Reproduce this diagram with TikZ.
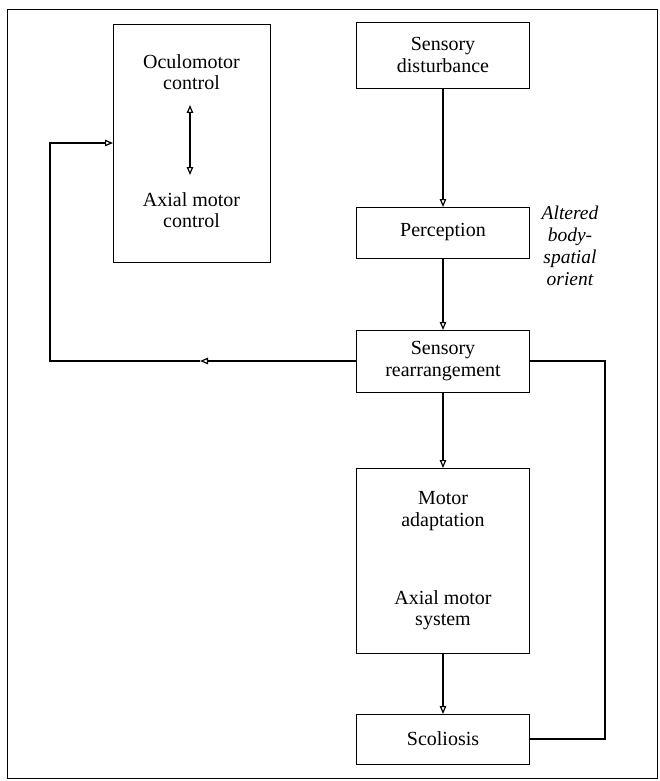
\documentclass[tikz,border=0pt]{standalone}
\usepackage{fontspec}
\setmainfont{Liberation Serif}
\newfontfamily\diagfont{Liberation Serif}
\usetikzlibrary{arrows.meta}
\begin{document}
\begin{tikzpicture}[x=1pt,y=-1pt,
  box/.style={draw, line width=0.8pt, minimum width=173pt, inner sep=0pt, outer sep=0pt},
  txt/.style={align=center, font=\diagfont\fontsize{20}{21.5}\selectfont, inner sep=0pt},
  itxt/.style={align=center, font=\diagfont\itshape\fontsize{19.5}{22}\selectfont, inner sep=0pt},
  arr/.style={line width=1.2pt, -{Triangle[open, length=8pt, width=6.5pt]}},
  dbl/.style={line width=1.2pt, {Triangle[open, length=8pt, width=6.5pt]}-{Triangle[open, length=8pt, width=6.5pt]}},
  ln/.style={line width=1.1pt}]
\useasboundingbox (0,0) rectangle (660,781);
\draw[line width=0.8pt] (7,9) rectangle (657,778);
% left box
\node[box, minimum width=157pt, minimum height=238pt] (lb) at (191.5,143) {};
\node[txt] (oc) at (191.5,72) {Oculomotor\\control};
\node[txt] (ax) at (191.5,210) {Axial motor\\control};
\coordinate (d1) at (190,105);
\coordinate (d2) at (190,175);
\draw[dbl] (d1) -- (d2);
% right column
\node[box, minimum height=66pt, txt] (sd) at (443,55) {Sensory\\disturbance};
\node[box, minimum height=51pt, txt] (pe) at (443,232.5) {Perception};
\node[box, minimum height=62pt, txt] (sr) at (443,361) {Sensory\\rearrangement};
\node[box, minimum height=185pt] (ma) at (443,560.5) {};
\node[txt] (mat) at (443,511) {Motor\\adaptation};
\node[txt] (axs) at (443,610) {Axial motor\\system};
\node[box, minimum height=50pt, txt] (sc) at (443,739) {Scoliosis};
\node[itxt] (alt) at (570,246) {Altered\\body-\\spatial\\orient};
% arrows
\draw[arr] (sd) -- (pe);
\draw[arr] (pe) -- (sr);
\draw[arr] (sr) -- (ma);
\draw[arr] (ma) -- (sc);
% feedback loop left
\coordinate (m1) at (200,361);
\coordinate (c1) at (50,361);
\draw[arr] (sr.west) -- (m1);
\draw[arr] (m1) -- (c1) |- (lb.west);
% right loop
\coordinate (c2) at (605,739);
\draw[ln] (sc.east) -- (c2) |- (sr.east);
\end{tikzpicture}
\end{document}
